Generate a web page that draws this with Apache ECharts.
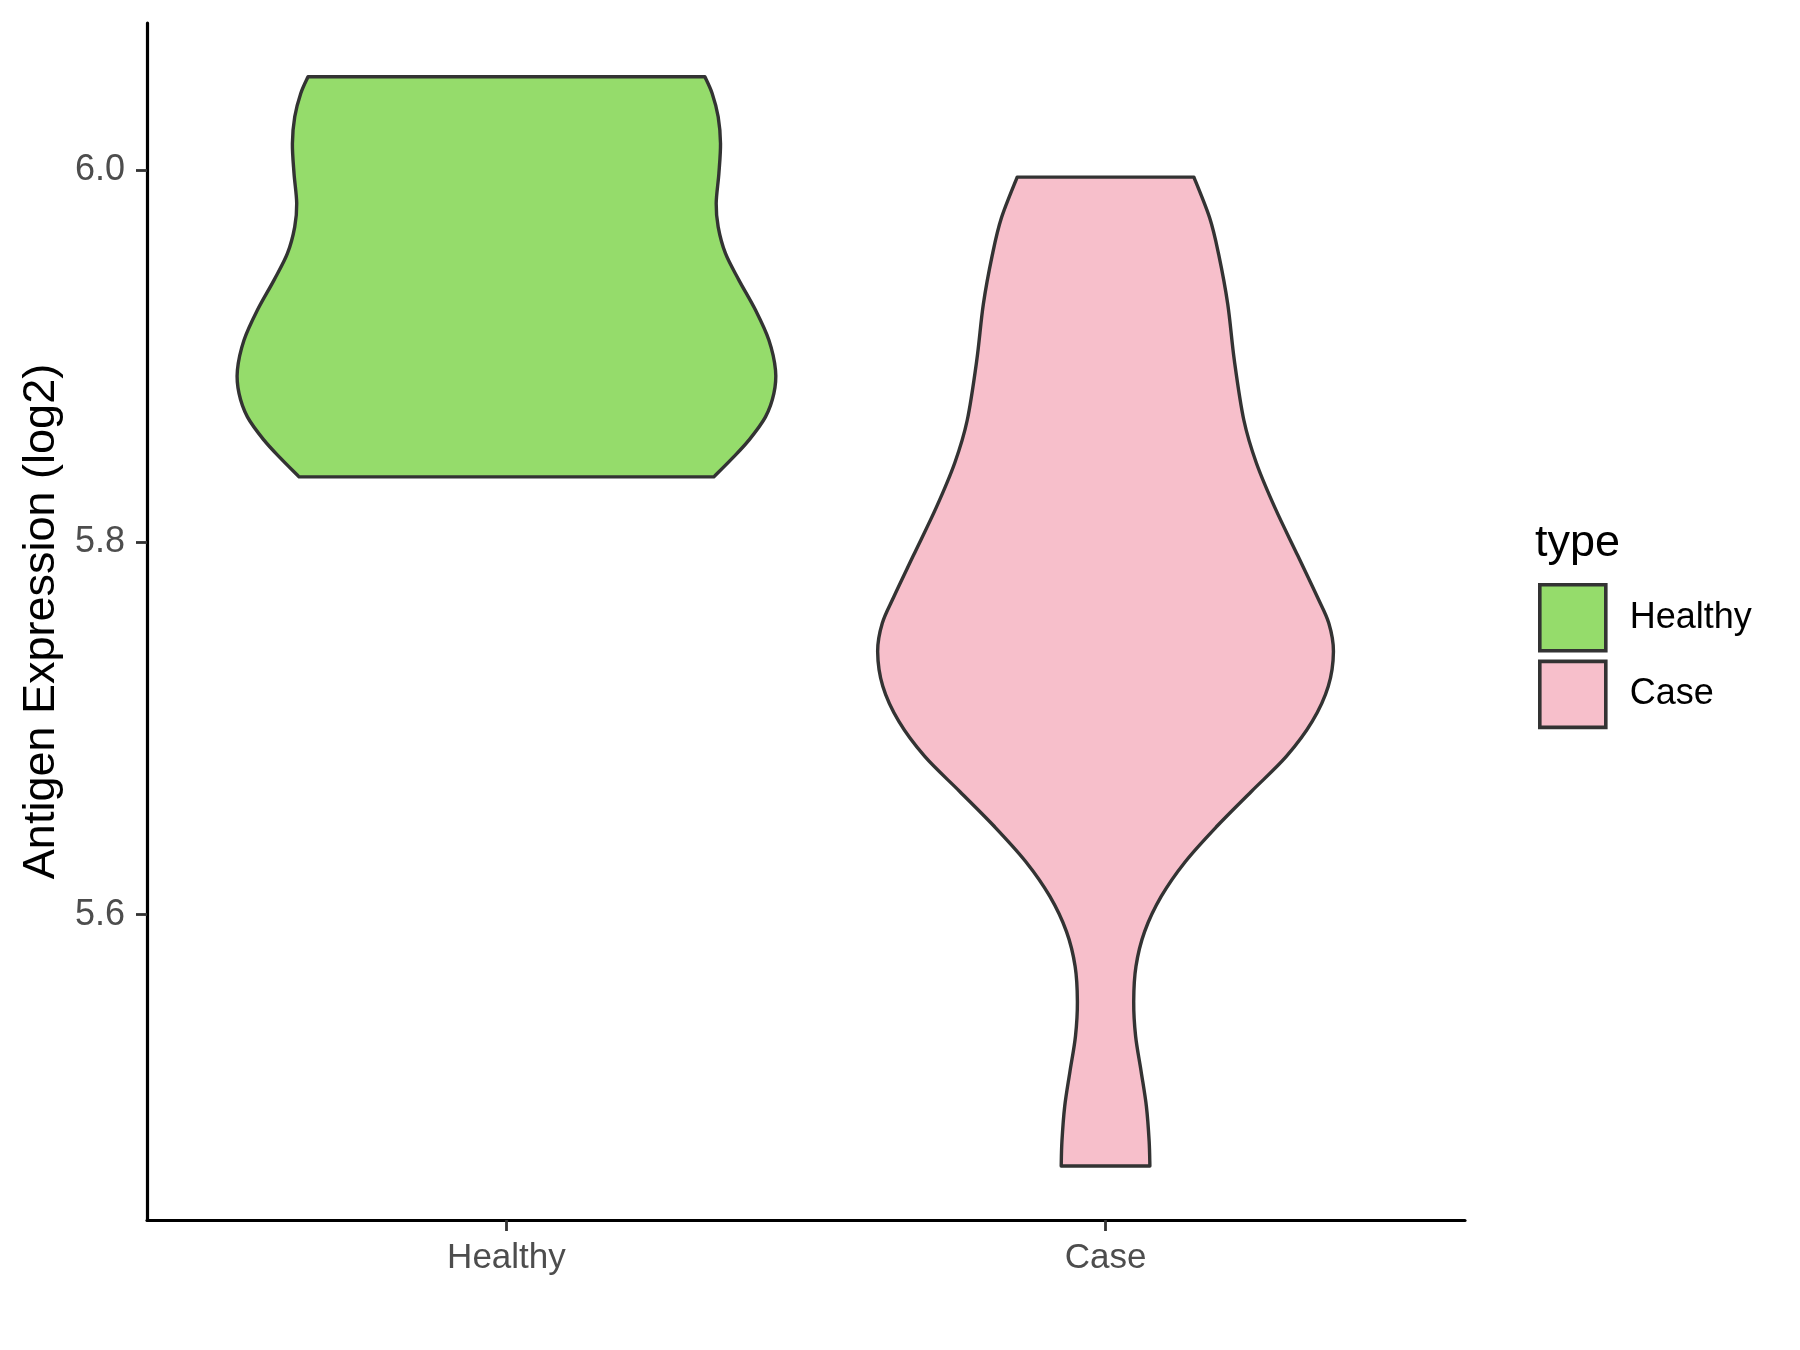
<!DOCTYPE html>
<html>
<head>
<meta charset="utf-8">
<script src="https://cdn.jsdelivr.net/npm/echarts@6/dist/echarts.min.js"></script>
<style>
html,body{margin:0;padding:0;background:#fff;}
#chart{width:1800px;height:1350px;}
</style>
</head>
<body>
<div id="chart"></div>
<script>
// Categories and tick labels
var categories = ['Healthy', 'Case'];
var yTicks = [5.6, 5.8, 6.0];

// Violin outline: expression values (log2) and half-widths (category units)
var healthyValues = [6.0501, 6.0411, 6.0286, 6.0143, 5.9982, 5.9821, 5.9695, 5.9552, 5.9409, 5.9248, 5.9087, 5.8925, 5.8800, 5.8674, 5.8549, 5.8451, 5.8352];
var healthyWidths = [0.3312, 0.3434, 0.3534, 0.3573, 0.3546, 0.3501, 0.3534, 0.3656, 0.3880, 0.4157, 0.4380, 0.4491, 0.4464, 0.4324, 0.4047, 0.3768, 0.3462];

var caseValues = [5.9962, 5.9741, 5.9544, 5.9279, 5.8977, 5.8656, 5.8428, 5.8188, 5.7929, 5.7713, 5.7566, 5.7414, 5.7227, 5.7038, 5.6850, 5.6662, 5.6475, 5.6286, 5.6098, 5.5909, 5.5723, 5.5533, 5.5347, 5.5158, 5.4970, 5.4782, 5.4650];
var caseWidths = [0.1475, 0.1740, 0.1890, 0.2040, 0.2150, 0.2309, 0.2516, 0.2825, 0.3208, 0.3526, 0.3727, 0.3804, 0.3718, 0.3450, 0.3018, 0.2434, 0.1859, 0.1334, 0.0929, 0.0652, 0.0508, 0.0470, 0.0502, 0.0594, 0.0682, 0.0728, 0.0740];

var colors = ['#95DC6B', '#F7BFCB'];
var violins = [
  {values: healthyValues, widths: healthyWidths},
  {values: caseValues, widths: caseWidths}
];

function splinePath(pts) {
  var s = '';
  for (var i = 0; i < pts.length - 1; i++) {
    var p0 = pts[Math.max(i - 1, 0)], p1 = pts[i], p2 = pts[i + 1], p3 = pts[Math.min(i + 2, pts.length - 1)];
    var c1x = p1[0] + (p2[0] - p0[0]) / 6, c1y = p1[1] + (p2[1] - p0[1]) / 6;
    var c2x = p2[0] - (p3[0] - p1[0]) / 6, c2y = p2[1] - (p3[1] - p1[1]) / 6;
    s += ' C' + c1x + ' ' + c1y + ' ' + c2x + ' ' + c2y + ' ' + p2[0] + ' ' + p2[1];
  }
  return s;
}

function makeRender(idx) {
  return function (params, api) {
    var v = violins[idx];
    var cx = idx + 1;
    var left = [], right = [];
    for (var i = 0; i < v.values.length; i++) {
      left.push(api.coord([cx - v.widths[i], v.values[i]]));
    }
    for (var j = v.values.length - 1; j >= 0; j--) {
      right.push(api.coord([cx + v.widths[j], v.values[j]]));
    }
    var d = 'M' + left[0][0] + ' ' + left[0][1] + splinePath(left) +
            ' L' + right[0][0] + ' ' + right[0][1] + splinePath(right) + ' Z';
    return {
      type: 'path',
      shape: {pathData: d},
      style: {fill: colors[idx], stroke: '#333333', lineWidth: 3.4, lineJoin: 'round'}
    };
  };
}

var chart = echarts.init(document.getElementById('chart'), null, {renderer: 'canvas'});
var font = 'Liberation Sans, Arial, sans-serif';
chart.setOption({
  backgroundColor: '#ffffff',
  animation: false,
  grid: {left: 147, right: 335, top: 23, bottom: 130, containLabel: false},
  xAxis: {
    type: 'value', min: 0.4, max: 2.6,
    splitLine: {show: false},
    axisLine: {show: true, onZero: false, lineStyle: {color: '#000', width: 3.2}},
    axisTick: {show: true, customValues: [1, 2], length: 11, lineStyle: {color: '#333', width: 2.8}},
    axisLabel: {customValues: [1, 2], margin: 21, color: '#4D4D4D', fontSize: 35, fontFamily: font,
      formatter: function (v) { return categories[Math.round(v) - 1]; }}
  },
  yAxis: {
    type: 'value', min: 5.436, max: 6.079,
    name: 'Antigen Expression (log2)', nameLocation: 'middle', nameGap: 82,
    nameTextStyle: {fontSize: 45, color: '#000', fontFamily: font},
    splitLine: {show: false},
    axisLine: {show: true, onZero: false, lineStyle: {color: '#000', width: 3.2}},
    axisTick: {show: true, customValues: yTicks, length: 11, lineStyle: {color: '#333', width: 2.8}},
    axisLabel: {customValues: yTicks, margin: 22, color: '#4D4D4D', fontSize: 36, fontFamily: font,
      formatter: function (v) { return v.toFixed(1); }}
  },
  title: {
    text: 'type', left: 1530, top: 516,
    textStyle: {fontSize: 45, fontWeight: 'normal', color: '#000', fontFamily: font}
  },
  legend: {
    orient: 'vertical', left: 1538, top: 583, padding: 0,
    itemWidth: 66, itemHeight: 66, itemGap: 7,
    icon: 'rect',
    textStyle: {fontSize: 36, color: '#000', fontFamily: font, padding: [0, 0, 0, 19]},
    data: [
      {name: 'Healthy', itemStyle: {color: colors[0], borderColor: '#333', borderWidth: 3.6}},
      {name: 'Case', itemStyle: {color: colors[1], borderColor: '#333', borderWidth: 3.6}}
    ]
  },
  series: [
    {type: 'custom', name: 'Healthy', renderItem: makeRender(0), data: [[1, 5.94]], color: colors[0],
     itemStyle: {color: colors[0], borderColor: '#333', borderWidth: 3.6}},
    {type: 'custom', name: 'Case', renderItem: makeRender(1), data: [[2, 5.74]], color: colors[1],
     itemStyle: {color: colors[1], borderColor: '#333', borderWidth: 3.6}}
  ]
});
</script>
</body>
</html>
